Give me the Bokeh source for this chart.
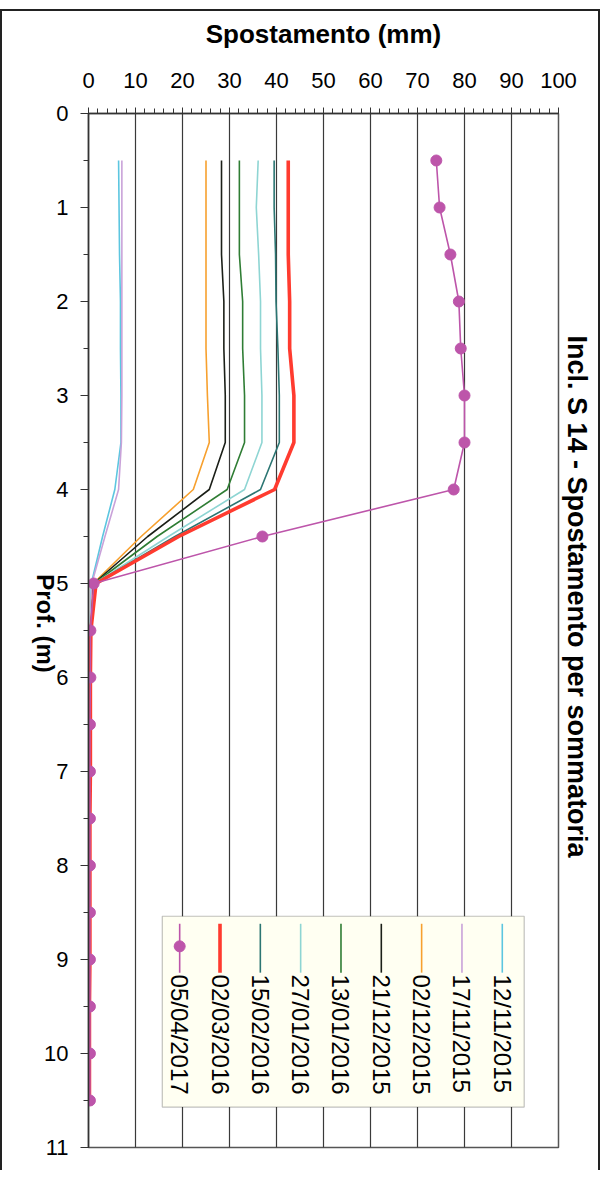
import math
from bokeh.plotting import figure
from bokeh.models import (Range1d, FixedTicker, BoxAnnotation, ColumnDataSource,
                          LinearAxis, CustomJSTickFormatter, Title)
from bokeh.core.properties import value
from bokeh.embed import file_html
from bokeh.resources import INLINE

# ---------------- data ----------------
depth = [0.5, 1.0, 1.5, 2.0, 2.5, 3.0, 3.5, 4.0, 4.5, 5.0,
         5.5, 6.0, 6.5, 7.0, 7.5, 8.0, 8.5, 9.0, 9.5, 10.0, 10.5]

s_12_11_2015 = [6.4, 6.5, 6.6, 6.8, 6.8, 6.9, 6.9, 5.6, 3.0, 0.6,
                0.4, 0.4, 0.4, 0.3, 0.3, 0.3, 0.3, 0.2, 0.2, 0.2, 0.2]
s_17_11_2015 = [7.1, 7.1, 7.1, 7.1, 7.1, 7.1, 7.0, 6.4, 3.5, 0.7,
                0.4, 0.4, 0.4, 0.3, 0.3, 0.3, 0.3, 0.2, 0.2, 0.2, 0.2]
s_02_12_2015 = [25.0, 25.0, 25.0, 25.0, 25.0, 25.3, 25.7, 22.3, 11.2, 1.0,
                0.5, 0.4, 0.4, 0.4, 0.3, 0.3, 0.3, 0.3, 0.2, 0.2, 0.2]
s_21_12_2015 = [28.3, 28.3, 28.3, 28.8, 28.8, 29.1, 29.1, 25.7, 12.6, 1.1,
                0.5, 0.4, 0.4, 0.4, 0.3, 0.3, 0.3, 0.3, 0.2, 0.2, 0.2]
s_13_01_2016 = [32.1, 32.1, 32.1, 32.8, 32.8, 33.2, 33.2, 29.5, 14.6, 1.2,
                0.5, 0.4, 0.4, 0.4, 0.3, 0.3, 0.3, 0.3, 0.2, 0.2, 0.2]
s_27_01_2016 = [36.1, 35.7, 36.2, 36.6, 36.6, 36.9, 36.9, 33.2, 17.0, 1.3,
                0.5, 0.4, 0.4, 0.4, 0.3, 0.3, 0.3, 0.3, 0.2, 0.2, 0.2]
s_15_02_2016 = [39.5, 39.5, 39.8, 39.9, 40.3, 40.6, 40.6, 36.6, 18.4, 1.4,
                0.5, 0.4, 0.4, 0.4, 0.3, 0.3, 0.3, 0.3, 0.2, 0.2, 0.2]
s_02_03_2016 = [42.5, 42.5, 42.5, 42.8, 42.8, 43.7, 43.7, 39.6, 19.2, 1.6,
                0.5, 0.4, 0.4, 0.4, 0.3, 0.3, 0.3, 0.3, 0.2, 0.2, 0.2]
s_05_04_2017 = [74.0, 74.7, 77.0, 78.8, 79.2, 80.0, 80.0, 77.7, 37.0, 1.1,
                0.4, 0.4, 0.3, 0.3, 0.3, 0.3, 0.3, 0.3, 0.3, 0.3, 0.3]

series_names = ["12/11/2015", "17/11/2015", "02/12/2015", "21/12/2015",
                "13/01/2016", "27/01/2016", "15/02/2016", "02/03/2016", "05/04/2017"]
series_values = [s_12_11_2015, s_17_11_2015, s_02_12_2015, s_21_12_2015,
                 s_13_01_2016, s_27_01_2016, s_15_02_2016, s_02_03_2016, s_05_04_2017]
series_colors = ["#5CC6E0", "#C9A2D9", "#F7A02E", "#1B1F18", "#2F7D34",
                 "#8ED5D3", "#2C7673", "#FF3B2F", "#BD55AA"]
series_widths = [1.6, 1.6, 1.6, 1.6, 1.6, 1.6, 1.6, 3.6, 1.6]

x_ticks = list(range(0, 101, 10))
x_minor = list(range(0, 101, 2))
y_ticks = list(range(0, 12))
y_minor = [i * 0.5 for i in range(0, 23)]

x_title = "Spostamento (mm)"
y_title = "Prof. (m)"
chart_title = "Incl. S 14 - Spostamento per sommatoria"

FONT = "Liberation Sans"

# ---------------- figure ----------------
W, H = 600, 1161
p = figure(width=W, height=H, output_backend="svg", toolbar_location=None,
           x_range=Range1d(0, 100), y_range=Range1d(11, 0),
           x_axis_location="above",
           min_border_left=86, min_border_top=102,
           min_border_right=44, min_border_bottom=25)
p.styles = {"border-left": "2px solid #222", "border-top": "2px solid #222",
            "border-right": "2px solid #222", "margin-top": "9px"}
p.background_fill_color = "white"
p.border_fill_color = "white"
p.border_fill_alpha = 0.0
p.outline_line_color = "#555555"
p.outline_line_width = 1.5

# grid
p.ygrid.visible = False
p.xgrid.ticker = FixedTicker(ticks=x_ticks)
p.xgrid.grid_line_color = "#3a3a3a"
p.xgrid.grid_line_width = 1.2

# top x axis
xa = p.xaxis[0]
xa.ticker = FixedTicker(ticks=x_ticks, minor_ticks=x_minor)
xa.axis_label = x_title
xa.axis_label_text_font = FONT
xa.axis_label_text_font_style = "bold"
xa.axis_label_text_font_size = "26px"
xa.axis_label_text_color = "black"
xa.axis_label_standoff = 21
xa.major_label_text_font = FONT
xa.major_label_text_font_size = "22px"
xa.major_label_text_color = "black"
xa.major_label_standoff = 20
xa.major_tick_in = 0
xa.major_tick_out = 6
xa.minor_tick_in = 0
xa.minor_tick_out = 5
xa.axis_line_color = "#333333"
xa.axis_line_width = 1.5
xa.major_tick_line_color = "#333333"
xa.minor_tick_line_color = "#333333"

# left y axis
ya = p.yaxis[0]
ya.ticker = FixedTicker(ticks=y_ticks, minor_ticks=y_minor)
ya.major_label_text_font = FONT
ya.major_label_text_font_size = "22px"
ya.major_label_text_color = "black"
ya.major_label_standoff = 12
ya.major_tick_in = 0
ya.major_tick_out = 8
ya.minor_tick_in = 0
ya.minor_tick_out = 5
ya.axis_line_color = "#333333"
ya.axis_line_width = 1.5
ya.major_tick_line_color = "#333333"
ya.minor_tick_line_color = "#333333"

# rotated y label (reads top-to-bottom), ends at its tick position
ylab = LinearAxis(ticker=FixedTicker(ticks=[5.95], minor_ticks=[]),
                  formatter=CustomJSTickFormatter(code="return %r" % y_title),
                  major_label_orientation=-math.pi / 2,
                  major_label_standoff=-4,
                  major_label_text_font=FONT,
                  major_label_text_font_size="24px",
                  major_label_text_font_style="bold",
                  major_label_text_color="black",
                  axis_line_color=None, major_tick_line_color=None,
                  minor_tick_line_color=None,
                  major_tick_in=0, major_tick_out=0, minor_tick_in=0, minor_tick_out=0)
p.add_layout(ylab, "left")

# chart title on the right side (reads top-to-bottom)
p.add_layout(Title(text=chart_title, align="left", offset=222, standoff=7,
                   text_font=FONT, text_font_size="27px", text_font_style="bold",
                   text_color="black"), "right")

# ---------------- legend box (drawn under lines) ----------------
leg_box = BoxAnnotation(left=15.7, right=92.7, top=8.54, bottom=10.57,
                        fill_color="#FFFFF2", fill_alpha=1.0,
                        line_color="#333333", line_width=1.2, level="underlay")
p.add_layout(leg_box)

# ---------------- series ----------------
for name, vals, col, lw in zip(series_names, series_values, series_colors, series_widths):
    src = ColumnDataSource(dict(x=vals, y=depth))
    p.line("x", "y", source=src, line_color=col, line_width=lw)
    if name == "05/04/2017":
        p.scatter("x", "y", source=src, size=11, fill_color=col, line_color=col)

# ---------------- legend entries (left to right: reverse order) ----------------
leg_names = list(reversed(series_names))
leg_colors = list(reversed(series_colors))
leg_widths = list(reversed(series_widths))
leg_x0, leg_dx = 19.4, 8.58
leg_x = [leg_x0 + i * leg_dx for i in range(len(leg_names))]
p.segment(x0=leg_x, y0=[8.62] * len(leg_x), x1=leg_x, y1=[9.14] * len(leg_x),
          line_color=leg_colors, line_width=leg_widths)
p.scatter(x=[leg_x[0]], y=[8.86], size=11, fill_color=leg_colors[0], line_color=leg_colors[0])
p.text(x=leg_x, y=[9.16] * len(leg_x), text=leg_names, angle=-math.pi / 2,
       text_align="left", text_baseline="middle",
       text_font=value(FONT), text_font_size="24px", text_color="black")

open("out.html", "w").write(file_html(p, INLINE))
